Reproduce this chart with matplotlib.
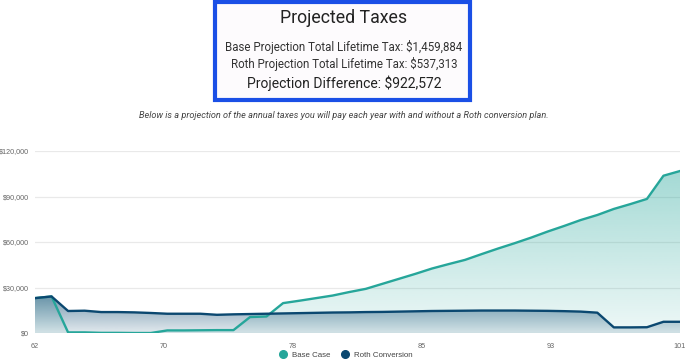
import numpy as np
import matplotlib
matplotlib.use("Agg")
from matplotlib import pyplot as plt
from matplotlib.patches import Rectangle
from matplotlib.lines import Line2D
from matplotlib.ticker import FuncFormatter
from matplotlib.colors import to_rgb

# data (annual tax, $ thousands)
ages = list(range(62, 102))
base_case = [23.0, 24.1, 0.4, 0.4, 0.1, 0.1, 0.0, 0.0, 1.7, 1.7,
             1.8, 1.9, 1.9, 10.5, 10.9, 19.7, 21.3, 23.0, 24.7, 27.0,
             29.1, 32.4, 35.7, 39.0, 42.5, 45.4, 48.2, 52.0, 55.7, 59.2,
             62.9, 66.9, 70.6, 74.5, 77.8, 81.8, 85.0, 88.4, 103.7, 106.8]
roth_conversion = [23.0, 24.1, 14.5, 14.7, 13.8, 13.8, 13.6, 13.2, 12.7, 12.7,
                   12.7, 12.0, 12.3, 12.5, 12.7, 12.9, 13.1, 13.3, 13.5, 13.6,
                   13.8, 13.9, 14.1, 14.3, 14.5, 14.6, 14.7, 14.8, 14.8, 14.8,
                   14.7, 14.6, 14.4, 14.1, 13.4, 3.7, 3.7, 3.8, 7.4, 7.4]
series_names = ["Base Case", "Roth Conversion"]
x_tick_labels = ["62", "70", "78", "85", "93", "101"]
y_ticks = [0, 30000, 60000, 90000, 120000]

title = "Projected Taxes"
summary_lines = ["Base Projection Total Lifetime Tax: $1,459,884",
                 "Roth Projection Total Lifetime Tax: $537,313"]
difference_line = "Projection Difference: $922,572"
subtitle = ("Below is a projection of the annual taxes you will pay each year "
            "with and without a Roth conversion plan.")

TEAL = "#26a69a"
NAVY = "#0b4870"

plt.rcParams['font.family'] = ['Roboto', 'DejaVu Sans']

fig = plt.figure(figsize=(6.88, 3.61), dpi=100)
ax = fig.add_axes([35 / 688, 28 / 361, 645 / 688, 182 / 361])

x = np.array(ages, dtype=float)
yb = np.array(base_case) * 1000
yr = np.array(roth_conversion) * 1000


def gradient_fill(ax, x, y, color, a_top, a_bot, z):
    poly = ax.fill_between(x, y, 0, facecolor='none', edgecolor='none')
    n = 256
    img = np.zeros((n, 1, 4))
    img[:, 0, :3] = to_rgb(color)
    img[:, 0, 3] = np.linspace(a_bot, a_top, n)
    im = ax.imshow(img, extent=[x.min(), x.max(), 0, y.max()], origin='lower',
                   aspect='auto', zorder=z, interpolation='bilinear')
    im.set_clip_path(poly.get_paths()[0], transform=ax.transData)


gradient_fill(ax, x, yb, TEAL, 0.42, 0.08, 1)
gradient_fill(ax, x, yr, NAVY, 0.55, 0.12, 2)
ax.plot(x, yb, color=TEAL, lw=1.7, zorder=3, solid_joinstyle='round')
ax.plot(x, yr, color=NAVY, lw=1.7, zorder=4, solid_joinstyle='round')

ax.set_xlim(62, 101)
ax.set_ylim(0, 120000)
ax.set_xticks(np.linspace(62, 101, len(x_tick_labels)))
ax.set_xticklabels(x_tick_labels)
ax.set_yticks(y_ticks)
ax.yaxis.set_major_formatter(FuncFormatter(lambda v, p: "${:,.0f}".format(v)))
ax.tick_params(length=0, labelsize=5.2, labelcolor='#666666')
ax.tick_params(axis='x', pad=7)
ax.tick_params(axis='y', pad=4)
for lab in ax.get_xticklabels() + ax.get_yticklabels():
    lab.set_family(['Liberation Sans', 'DejaVu Sans'])
ax.grid(axis='y', color='#e9e9e9', lw=0.9)
ax.set_axisbelow(True)
for s in ax.spines.values():
    s.set_visible(False)

handles = [Line2D([], [], ls='none', marker='o', ms=5.5, color=TEAL),
           Line2D([], [], ls='none', marker='o', ms=5.5, color=NAVY)]
leg = fig.legend(handles, series_names, loc='center', bbox_to_anchor=(0.5, 6 / 361),
                 ncol=2, frameon=False, fontsize=5.7, handletextpad=0.2,
                 columnspacing=0.8, borderaxespad=0)
for t in leg.get_texts():
    t.set_color('#444444')
    t.set_family(['Liberation Sans', 'DejaVu Sans'])

# summary box
fig.patches.append(Rectangle((215 / 688, 1 - 100 / 361), 255 / 688, 98 / 361,
                             transform=fig.transFigure, facecolor='#fdfbfd',
                             edgecolor='#1a4fe6', lw=3, zorder=0))
fig.text(0.5, 1 - 18 / 361, title, ha='center', va='center', fontsize=12.8, color='#222222')
fig.text(0.5, 1 - 47 / 361, summary_lines[0], ha='center', va='center', fontsize=8.3, color='#333333')
fig.text(0.5, 1 - 64 / 361, summary_lines[1], ha='center', va='center', fontsize=8.3, color='#333333')
fig.text(0.5, 1 - 83 / 361, difference_line, ha='center', va='center', fontsize=10, color='#222222')
fig.text(0.5, 1 - 115 / 361, subtitle, ha='center', va='center', fontsize=6.6,
         style='italic', color='#444444')

fig.savefig('out.png', dpi=100)
